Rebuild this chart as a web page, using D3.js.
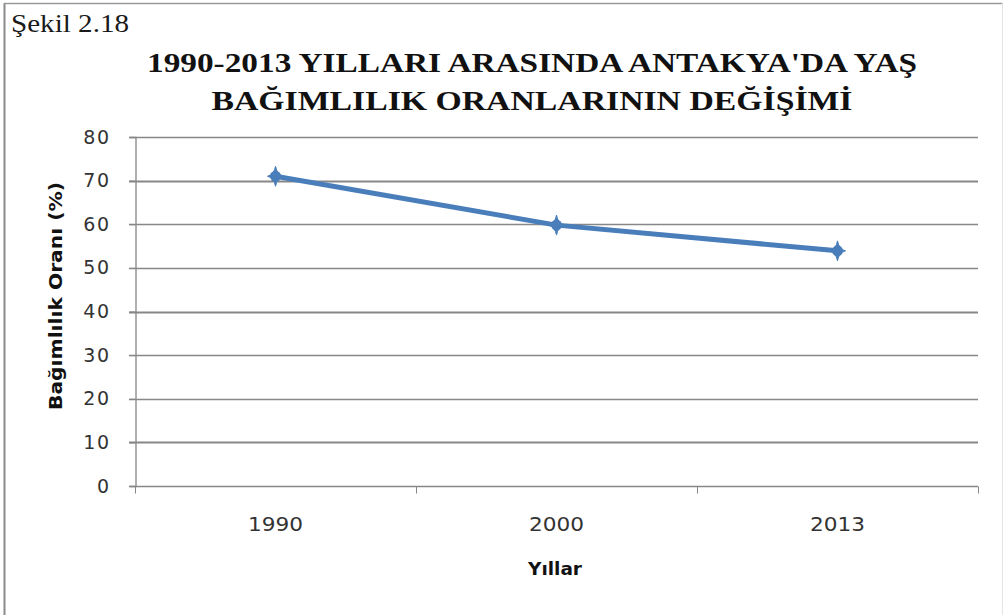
<!DOCTYPE html>
<html>
<head>
<meta charset="utf-8">
<script src="https://cdn.jsdelivr.net/npm/d3@7"></script>
<style>
  body { margin: 0; background: #fff; }
  svg { display: block; }
</style>
</head>
<body>
<svg id="chart" width="1006" height="615"></svg>
<script>
// data
var years = ["1990", "2000", "2013"];
var ratios = [71.0, 59.8, 53.9];
var yTicks = [0, 10, 20, 30, 40, 50, 60, 70, 80];
var titleLines = ["1990-2013 YILLARI ARASINDA ANTAKYA'DA YAŞ", "BAĞIMLILIK ORANLARININ DEĞİŞİMİ"];

var svg = d3.select("#chart"),
    width = +svg.attr("width"),
    height = +svg.attr("height");

var plot = { left: 135, right: 978, top: 137, bottom: 486 };

var x = d3.scaleBand()
    .domain(years)
    .range([plot.left, plot.right])
    .padding(0);

var y = d3.scaleLinear()
    .domain([0, 80])
    .range([plot.bottom, plot.top]);

// frame
svg.append("line").attr("x1", 4.5).attr("x2", 4.5).attr("y1", 3).attr("y2", height)
    .attr("stroke", "#8a8a8a").attr("stroke-width", 2);
svg.append("line").attr("x1", 4).attr("x2", 1003).attr("y1", 3.5).attr("y2", 3.5)
    .attr("stroke", "#9a9a9a").attr("stroke-width", 1.5);
svg.append("line").attr("x1", 1002.5).attr("x2", 1002.5).attr("y1", 3).attr("y2", height)
    .attr("stroke", "#e4e4e4").attr("stroke-width", 1);

// Şekil label
svg.append("text")
    .attr("x", 11).attr("y", 32)
    .attr("textLength", 118)
    .attr("lengthAdjust", "spacingAndGlyphs")
    .style("font-family", "'Liberation Serif', 'Times New Roman', serif")
    .style("font-size", "26px")
    .attr("fill", "#1a1a1a")
    .text("Şekil 2.18");

// title (source is stretched wide)
var titleWidths = [770, 641];
svg.append("g").selectAll("text")
    .data(titleLines)
    .enter().append("text")
    .attr("x", 532)
    .attr("y", function (d, i) { return 72 + i * 38; })
    .attr("text-anchor", "middle")
    .attr("textLength", function (d, i) { return titleWidths[i]; })
    .attr("lengthAdjust", "spacingAndGlyphs")
    .style("font-family", "'Liberation Serif', 'Times New Roman', serif")
    .style("font-weight", "bold")
    .style("font-size", "27px")
    .attr("fill", "#111")
    .text(function (d) { return d; });

// grid lines
svg.append("g")
    .selectAll("line")
    .data(yTicks.slice(1))
    .enter().append("line")
    .attr("x1", plot.left - 6)
    .attr("x2", plot.right)
    .attr("y1", function (d) { return Math.round(y(d)) + 0.5; })
    .attr("y2", function (d) { return Math.round(y(d)) + 0.5; })
    .attr("stroke", "#878787")
    .attr("stroke-width", function (d) { return (d === 70 || d === 40 || d === 10) ? 2 : 1.3; });

// y axis
var yAxis = svg.append("g")
    .attr("transform", "translate(" + (plot.left + 0.5) + ",0)")
    .call(d3.axisLeft(y).tickValues(yTicks).tickSize(6).tickPadding(19));
yAxis.select(".domain").attr("stroke", "#878787").attr("stroke-width", 1.3);
yAxis.selectAll(".tick line").attr("stroke", "#878787");
yAxis.selectAll(".tick text")
    .style("font-family", "'DejaVu Sans', Tahoma, sans-serif")
    .style("font-size", "19px")
    .style("letter-spacing", "1.5px")
    .attr("fill", "#333");

// x axis with ticks on band edges
var xAxis = svg.append("g")
    .attr("transform", "translate(0," + (plot.bottom + 0.5) + ")");
xAxis.append("line")
    .attr("x1", plot.left - 6).attr("x2", plot.right)
    .attr("stroke", "#878787").attr("stroke-width", 1.3);
var edges = years.map(function (d) { return x(d); }).concat([x.range()[1]]);
xAxis.selectAll(".edge")
    .data(edges)
    .enter().append("line")
    .attr("class", "edge")
    .attr("x1", function (d) { return Math.round(d) + 0.5; })
    .attr("x2", function (d) { return Math.round(d) + 0.5; })
    .attr("y1", 0).attr("y2", 7)
    .attr("stroke", "#878787");
xAxis.selectAll(".lbl")
    .data(years)
    .enter().append("text")
    .attr("class", "lbl")
    .attr("x", function (d) { return x(d) + x.bandwidth() / 2; })
    .attr("y", 44)
    .attr("text-anchor", "middle")
    .attr("textLength", 55)
    .attr("lengthAdjust", "spacingAndGlyphs")
    .style("font-family", "'DejaVu Sans', Tahoma, sans-serif")
    .style("font-size", "19px")
    .attr("fill", "#333")
    .text(function (d) { return d; });

// axis titles
svg.append("text")
    .attr("transform", "translate(62," + 296 + ") rotate(-90)")
    .attr("text-anchor", "middle")
    .attr("textLength", 228)
    .attr("lengthAdjust", "spacingAndGlyphs")
    .style("font-family", "'DejaVu Sans', Tahoma, sans-serif")
    .style("font-weight", "bold")
    .style("font-size", "17px")
    .attr("fill", "#111")
    .text("Bağımlılık Oranı (%)");

svg.append("text")
    .attr("x", 555).attr("y", 575)
    .attr("text-anchor", "middle")
    .attr("textLength", 54)
    .attr("lengthAdjust", "spacingAndGlyphs")
    .style("font-family", "'DejaVu Sans', Tahoma, sans-serif")
    .style("font-weight", "bold")
    .style("font-size", "18px")
    .attr("fill", "#111")
    .text("Yıllar");

// series
var points = years.map(function (d, i) { return { year: d, value: ratios[i] }; });
var line = d3.line()
    .x(function (d) { return x(d.year) + x.bandwidth() / 2; })
    .y(function (d) { return y(d.value); });

svg.append("path")
    .datum(points)
    .attr("d", line)
    .attr("fill", "none")
    .attr("stroke", "#4a7ebb")
    .attr("stroke-width", 5)
    .attr("stroke-linejoin", "round");

// four-point star marker
var star = "M0,-10 Q1.5,-1.5 8,0 Q1.5,1.5 0,10 Q-1.5,1.5 -8,0 Q-1.5,-1.5 0,-10 Z";
svg.append("g")
    .selectAll("path")
    .data(points)
    .enter().append("path")
    .attr("transform", function (d) {
        return "translate(" + (x(d.year) + x.bandwidth() / 2) + "," + y(d.value) + ")";
    })
    .attr("d", star)
    .attr("fill", "#4a7ebb")
    .attr("stroke", "#4a7ebb")
    .attr("stroke-width", 1);
svg.append("g")
    .selectAll("circle")
    .data(points)
    .enter().append("circle")
    .attr("cx", function (d) { return x(d.year) + x.bandwidth() / 2; })
    .attr("cy", function (d) { return y(d.value); })
    .attr("r", 5.5)
    .attr("fill", "#4a7ebb");
</script>
</body>
</html>
